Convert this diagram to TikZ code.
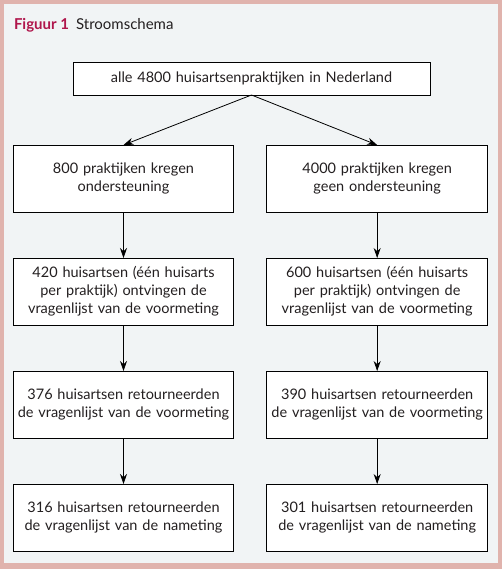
\documentclass[tikz,border=0pt]{standalone}
\usepackage{fontspec}
\setmainfont{Lato}
\usetikzlibrary{arrows.meta, positioning, backgrounds}
\definecolor{clrFrame}{HTML}{E0B3AD}
\definecolor{clrBg}{HTML}{F1F4F5}
\definecolor{clrTitle}{HTML}{B0164C}
\definecolor{clrText}{HTML}{231F20}

\begin{document}
\begin{tikzpicture}[
  x=1pt, y=1pt,
  node distance = 46pt and 33pt,
  box/.style = {
    rectangle,
    draw=black,
    line width=0.8pt,
    fill=white,
    minimum width=219pt,
    minimum height=67pt,
    text width=214pt,
    align=center,
    text=clrText,
    font=\fontsize{14.5}{18}\selectfont
  },
  arrow/.style = {
    -{Stealth[length=10pt, width=7pt]},
    line width=0.8pt
  },
  every node/.style={outer sep=0pt}
]

% ── frame ────────────────────────────────────────────────────────────────────
\fill[clrFrame] (0,0) rectangle (502,-569);
\fill[clrBg] (4,-4) rectangle (498,-563);
\useasboundingbox (0,0) rectangle (502,-569);

\node[anchor=base west, inner sep=0pt, text=clrText, font=\fontsize{15}{17}\selectfont] (title) at (14,-30)
  {\textcolor{clrTitle}{\textbf{Figuur 1}}\hspace{7pt}Stroomschema};

% ── nodes ────────────────────────────────────────────────────────────────────
\node[box, minimum width=357pt, minimum height=33pt, text width=350pt] (alle) at (251.5,-78.5)
  {alle 4800 huisartsenpraktijken in Nederland};

\node[box] (steun) at (123.5,-178.5)
  {800 praktijken kregen\\ ondersteuning};
\node[box, right=of steun] (geen)
  {4000 praktijken kregen\\ geen ondersteuning};

\node[box, below=of steun] (ontvL)
  {420 huisartsen (één huisarts\\ per praktijk) ontvingen de\\ vragenlijst van de voormeting};
\node[box, below=of geen] (ontvR)
  {600 huisartsen (één huisarts\\ per praktijk) ontvingen de\\ vragenlijst van de voormeting};

\node[box, below=of ontvL] (voorL)
  {376 huisartsen retourneerden\\ de vragenlijst van de voormeting};
\node[box, below=of ontvR] (voorR)
  {390 huisartsen retourneerden\\ de vragenlijst van de voormeting};

\node[box, below=of voorL] (naL)
  {316 huisartsen retourneerden\\ de vragenlijst van de nameting};
\node[box, below=of voorR] (naR)
  {301 huisartsen retourneerden\\ de vragenlijst van de nameting};

% ── arrows ───────────────────────────────────────────────────────────────────
\draw[arrow] (alle.south) -- (steun.north);
\draw[arrow] (alle.south) -- (geen.north);
\draw[arrow] (steun) -- (ontvL);
\draw[arrow] (geen)  -- (ontvR);
\draw[arrow] (ontvL) -- (voorL);
\draw[arrow] (ontvR) -- (voorR);
\draw[arrow] (voorL) -- (naL);
\draw[arrow] (voorR) -- (naR);

\end{tikzpicture}
\end{document}
